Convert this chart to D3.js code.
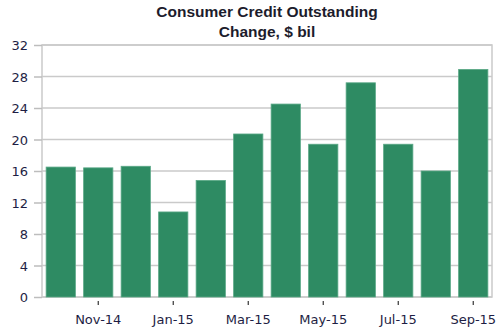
<!DOCTYPE html>
<html>
<head>
<meta charset="utf-8">
<script src="https://cdn.jsdelivr.net/npm/d3@7"></script>
<style>
  html, body { margin: 0; padding: 0; background: #fff; }
  svg { display: block; }
</style>
</head>
<body>
<script>
// Monthly change in consumer credit outstanding, $ billions
const months = ["Oct-14","Nov-14","Dec-14","Jan-15","Feb-15","Mar-15","Apr-15","May-15","Jun-15","Jul-15","Aug-15","Sep-15"];
const changes = [16.5, 16.4, 16.6, 10.8, 14.8, 20.7, 24.5, 19.4, 27.2, 19.4, 16.0, 28.9];
const yTicks = [0, 4, 8, 12, 16, 20, 24, 28, 32];
const labeledMonths = ["Nov-14","Jan-15","Mar-15","May-15","Jul-15","Sep-15"];
const titleLines = ["Consumer Credit Outstanding", "Change, $ bil"];

const W = 500, H = 333;
const margin = { top: 45, right: 8, bottom: 36, left: 42 };
const innerW = W - margin.left - margin.right;
const innerH = H - margin.top - margin.bottom;
const labelFont = "'DejaVu Sans', Verdana, sans-serif";

const svg = d3.select("body").append("svg").attr("width", W).attr("height", H);

const x = d3.scaleBand().domain(months).range([0, innerW]).paddingInner(0.22).paddingOuter(0.11);
const y = d3.scaleLinear().domain([0, 32]).range([innerH, 0]);

const g = svg.append("g").attr("transform", `translate(${margin.left},${margin.top})`);

// Title
svg.append("g").selectAll("text").data(titleLines).join("text")
  .attr("x", 267).attr("y", (d, i) => 17 + i * 20)
  .attr("text-anchor", "middle")
  .attr("font-family", "'Liberation Sans', Arial, sans-serif")
  .attr("font-size", 15.5).attr("font-weight", "bold")
  .attr("fill", "#1c1c2c")
  .text(d => d);

// Horizontal gridlines
g.append("g").selectAll("line").data(yTicks).join("line")
  .attr("x1", 0).attr("x2", innerW)
  .attr("y1", d => y(d)).attr("y2", d => y(d))
  .attr("stroke", "#cacaca").attr("stroke-width", 1.5);

// Plot frame
g.append("rect").attr("x", 0).attr("y", 0).attr("width", innerW).attr("height", innerH)
  .attr("fill", "none").attr("stroke", "#cacaca").attr("stroke-width", 1.5);

// Y axis
const yAxis = g.append("g").call(d3.axisLeft(y).tickValues(yTicks).tickSize(8).tickPadding(6).tickFormat(d3.format("d")));
yAxis.select(".domain").remove();
yAxis.selectAll(".tick line").attr("stroke", "#bdbdbd").attr("stroke-width", 1.5);
yAxis.selectAll(".tick text").attr("font-size", 13).attr("fill", "#1e1e44")
  .attr("font-family", labelFont).attr("dy", "0.36em");

// Bars
g.append("g").selectAll("rect").data(months).join("rect")
  .attr("x", d => x(d))
  .attr("width", x.bandwidth())
  .attr("y", (d, i) => y(changes[i]))
  .attr("height", (d, i) => innerH - y(changes[i]))
  .attr("fill", "#2e8b63")
  .attr("stroke", "#5aa886").attr("stroke-width", 0.8);

// X axis
const xAxis = g.append("g").attr("transform", `translate(0,${innerH})`)
  .call(d3.axisBottom(x).tickValues(labeledMonths).tickSize(8).tickPadding(10));
xAxis.select(".domain").remove();
xAxis.selectAll(".tick line").attr("stroke", "#333").attr("stroke-width", 1.2).attr("y1", 4);
xAxis.selectAll(".tick text").attr("font-size", 13).attr("fill", "#1e1e44")
  .attr("font-family", labelFont);
</script>
</body>
</html>
